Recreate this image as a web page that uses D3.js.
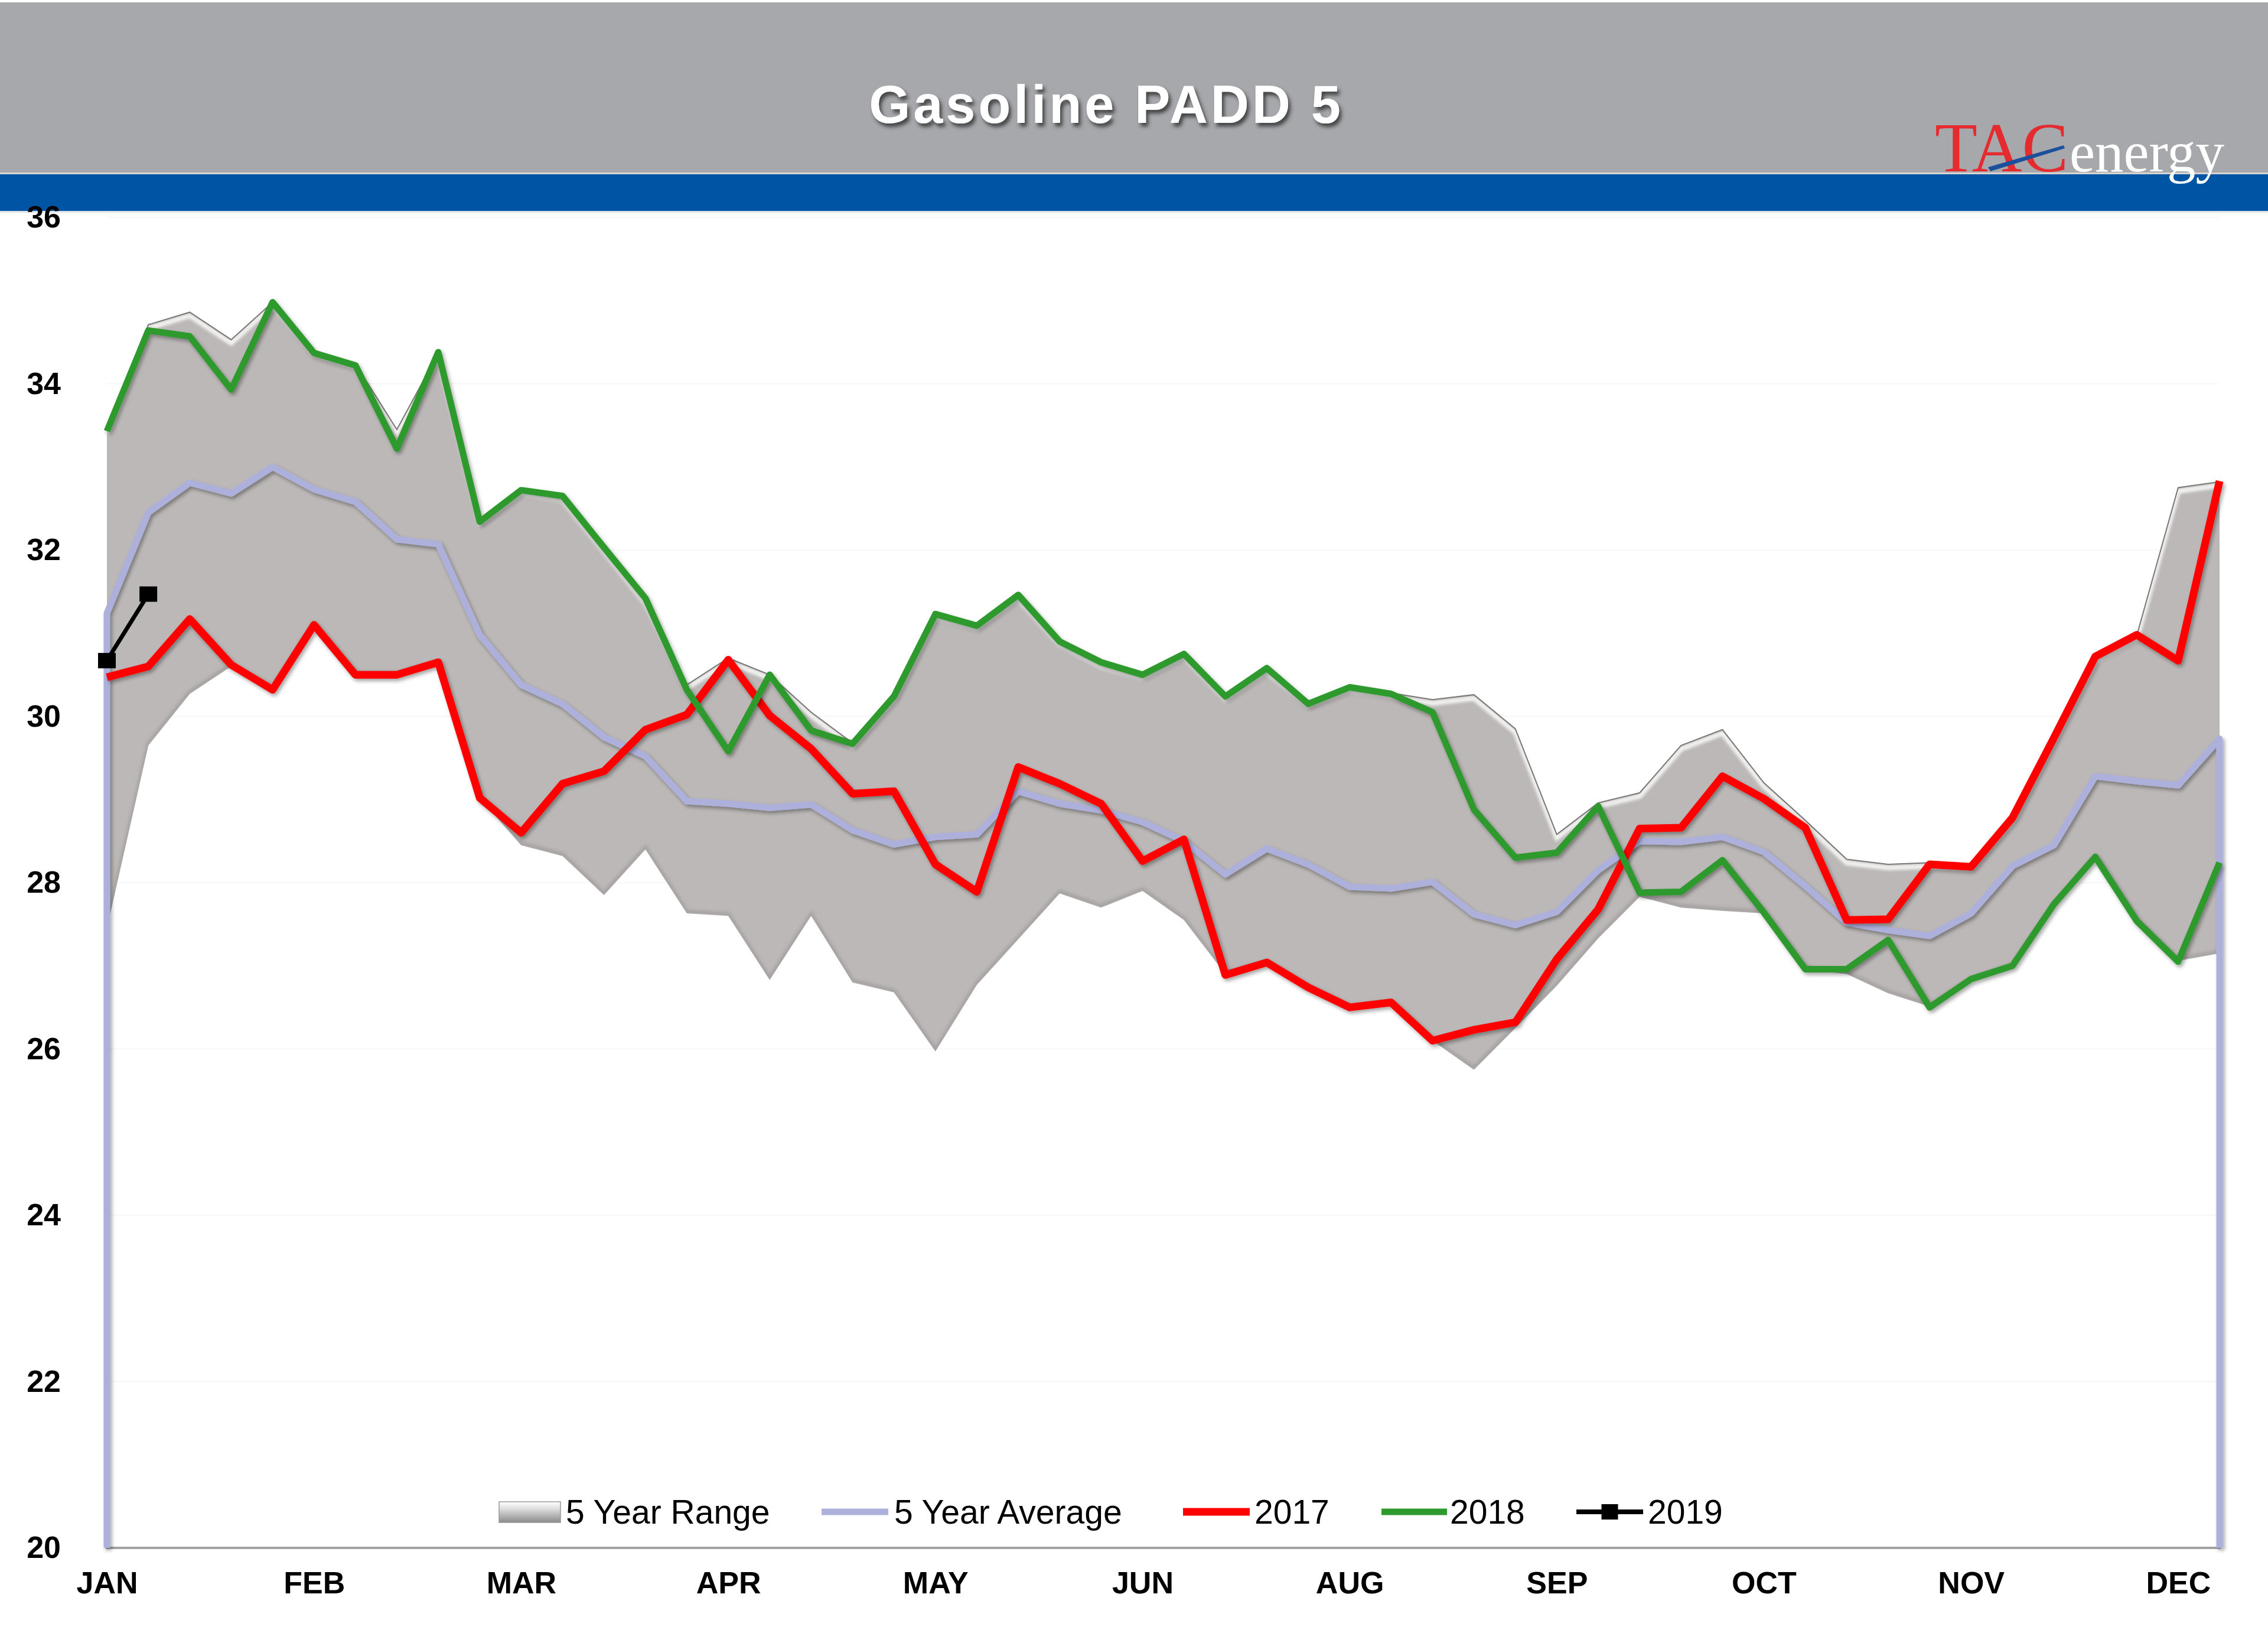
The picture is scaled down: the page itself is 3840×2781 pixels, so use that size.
<!DOCTYPE html>
<html><head><meta charset="utf-8">
<script src="https://cdn.jsdelivr.net/npm/d3@7"></script>
<style>html,body{margin:0;padding:0;background:#fff;} svg{display:block;}</style>
</head><body>
<script>
// ---------------- DATA ----------------
const chartTitle = "Gasoline PADD 5";
const monthLabels = ["JAN","FEB","MAR","APR","MAY","JUN","AUG","SEP","OCT","NOV","DEC"];
const labelEvery = 5;
const yTicks = [20,22,24,26,28,30,32,34,36];
const legendLabels = ["5 Year Range","5 Year Average","2017","2018","2019"];

const rangeHigh = [33.45,34.71,34.86,34.53,34.98,34.40,34.24,33.45,34.37,32.36,
  32.72,32.64,32.02,31.40,30.38,30.70,30.50,30.05,29.68,30.24,
  31.23,31.10,31.45,30.90,30.64,30.50,30.75,30.24,30.57,30.17,
  30.35,30.28,30.20,30.26,29.85,28.58,28.96,29.08,29.65,29.84,
  29.20,28.75,28.28,28.22,28.24,28.22,28.78,29.74,30.70,30.97,
  32.75,32.82];
const rangeLow = [27.45,29.65,30.27,30.60,30.34,31.10,30.50,30.50,30.64,29.02,
  28.45,28.32,27.85,28.40,27.63,27.60,26.83,27.60,26.80,26.68,
  25.97,26.77,27.32,27.87,27.70,27.90,27.55,26.90,27.03,26.74,
  26.50,26.55,26.10,25.75,26.25,26.76,27.33,27.83,27.70,27.66,
  27.63,26.96,26.90,26.67,26.51,26.83,27.00,27.73,28.30,27.53,
  27.06,27.15];
const avg5 = [31.24,32.45,32.81,32.68,33.00,32.73,32.58,32.13,32.07,30.98,
  30.38,30.15,29.75,29.52,28.98,28.95,28.90,28.94,28.63,28.46,
  28.55,28.58,29.10,28.95,28.87,28.73,28.50,28.10,28.41,28.22,
  27.95,27.93,28.01,27.62,27.49,27.65,28.15,28.50,28.49,28.55,
  28.37,27.96,27.52,27.43,27.36,27.63,28.20,28.45,29.28,29.22,
  29.17,29.73];
const y2017 = [30.47,30.60,31.17,30.62,30.32,31.10,30.50,30.50,30.65,29.02,
  28.60,29.19,29.34,29.84,30.02,30.68,30.01,29.61,29.07,29.10,
  28.22,27.89,29.39,29.19,28.95,28.26,28.52,26.89,27.04,26.74,
  26.50,26.56,26.10,26.23,26.32,27.08,27.68,28.65,28.66,29.28,
  29.01,28.66,27.55,27.56,28.22,28.19,28.78,29.74,30.72,30.98,
  30.67,32.83];
const y2018 = [33.43,34.64,34.57,33.93,34.98,34.37,34.22,33.22,34.38,32.34,
  32.72,32.65,32.03,31.42,30.32,29.58,30.50,29.83,29.67,30.24,
  31.23,31.09,31.46,30.90,30.65,30.50,30.75,30.24,30.58,30.15,
  30.35,30.27,30.05,28.88,28.30,28.36,28.92,27.88,27.89,28.27,
  27.64,26.96,26.96,27.31,26.50,26.84,27.00,27.74,28.31,27.54,
  27.05,28.24];
const y2019 = [30.67,31.47];

// ---------------- LAYOUT ----------------
const W = 3840, H = 2781;
const plot = {left:181, right:3758, top:368, bottom:2620};
const colors = {header:"#a6a8ab", band:"#0054a4", range:"#bbb8b7", avg:"#aeb0dc",
  y2017:"#ff0000", y2018:"#2e9a2e", y2019:"#000000"};

const svg = d3.select("body").append("svg").attr("width",W).attr("height",H)
  .style("font-family","'Liberation Sans', Arial, sans-serif");
const defs = svg.append("defs");
const sh = defs.append("filter").attr("id","lineShadow").attr("x","-5%").attr("y","-5%").attr("width","110%").attr("height","110%");
sh.append("feDropShadow").attr("dx",3).attr("dy",4).attr("stdDeviation",3).attr("flood-color","#000").attr("flood-opacity",0.35);
const tsh = defs.append("filter").attr("id","titleShadow").attr("x","-10%").attr("y","-30%").attr("width","120%").attr("height","160%");
tsh.append("feDropShadow").attr("dx",4).attr("dy",6).attr("stdDeviation",3).attr("flood-color","#333").attr("flood-opacity",0.85);
const blur = defs.append("filter").attr("id","blur");
blur.append("feGaussianBlur").attr("stdDeviation",2.5);
const blur2 = defs.append("filter").attr("id","blur2").attr("y","-200%").attr("height","500%");
blur2.append("feGaussianBlur").attr("stdDeviation",5);
const grad = defs.append("linearGradient").attr("id","rangeSwatch").attr("x1",0).attr("y1",0).attr("x2",0).attr("y2",1);
grad.append("stop").attr("offset","0%").attr("stop-color","#ffffff");
grad.append("stop").attr("offset","35%").attr("stop-color","#dcdcdc");
grad.append("stop").attr("offset","100%").attr("stop-color","#8a8a8a");

// ---------------- HEADER ----------------
svg.append("rect").attr("x",0).attr("y",4).attr("width",W).attr("height",290).attr("fill",colors.header);
svg.append("rect").attr("x",0).attr("y",292).attr("width",W).attr("height",3).attr("fill","#d9d4cf");
svg.append("rect").attr("x",0).attr("y",295).attr("width",W).attr("height",62).attr("fill",colors.band);
svg.append("rect").attr("x",0).attr("y",357).attr("width",W).attr("height",3).attr("fill","#c9cfd8").attr("opacity",0.6);

svg.append("text").attr("x",1873).attr("y",208).attr("text-anchor","middle")
  .attr("font-size",90).attr("font-weight","bold").attr("letter-spacing",5)
  .attr("fill","#ffffff").attr("filter","url(#titleShadow)").text(chartTitle);

// logo
const logo = svg.append("g").style("font-family","'Liberation Serif','Times New Roman',serif");
logo.append("text").attr("x",3276).attr("y",290).attr("font-size",118)
  .attr("fill","#e52b2f").attr("textLength",226).attr("lengthAdjust","spacingAndGlyphs").text("TAC");
logo.append("text").attr("x",3504).attr("y",290).attr("font-size",97)
  .attr("fill","#ffffff").attr("textLength",262).attr("lengthAdjust","spacingAndGlyphs").text("energy");
logo.append("path").attr("d","M3366,283 L3494,246 L3496,251 L3370,290 Z").attr("fill","#1c4f9c");

// ---------------- SCALES ----------------
const idx = d3.range(rangeHigh.length);
const x = d3.scalePoint().domain(idx).range([plot.left, plot.right]);
const y = d3.scaleLinear().domain([20,36]).range([plot.bottom, plot.top]);

// gridlines (very faint)
svg.append("g").selectAll("line").data(yTicks.slice(1)).join("line")
  .attr("x1",plot.left).attr("x2",plot.right).attr("y1",d=>y(d)).attr("y2",d=>y(d))
  .attr("stroke","#f7f7f7").attr("stroke-width",2);

// ---------------- RANGE BAND ----------------
const area = d3.area().x(i=>x(i)).y0(i=>y(rangeLow[i])).y1(i=>y(rangeHigh[i]));
const upperLine = d3.line().x(i=>x(i)).y(i=>y(rangeHigh[i]));
const lowerLine = d3.line().x(i=>x(i)).y(i=>y(rangeLow[i]));
defs.append("clipPath").attr("id","bandClip").append("path").attr("d",area(idx));
svg.append("path").attr("d",area(idx)).attr("fill",colors.range);
const bev = svg.append("g").attr("clip-path","url(#bandClip)");
bev.append("path").attr("d",upperLine(idx)).attr("fill","none").attr("stroke","#ffffff")
  .attr("stroke-width",8).attr("opacity",0.85).attr("transform","translate(0,6)").attr("filter","url(#blur)");
bev.append("path").attr("d",lowerLine(idx)).attr("fill","none").attr("stroke","#8f8b8a")
  .attr("stroke-width",6).attr("opacity",0.5).attr("transform","translate(0,-3)").attr("filter","url(#blur)");
bev.append("line").attr("x1",x(0)+3).attr("x2",x(0)+3).attr("y1",y(rangeHigh[0])).attr("y2",y(rangeLow[0]))
  .attr("stroke","#7a7777").attr("stroke-width",6).attr("filter","url(#blur)");
bev.append("line").attr("x1",x(idx.length-1)-3).attr("x2",x(idx.length-1)-3).attr("y1",y(rangeHigh[idx.length-1])).attr("y2",y(rangeLow[idx.length-1]))
  .attr("stroke","#6a6767").attr("stroke-width",5).attr("filter","url(#blur)");
svg.append("path").attr("d",upperLine(idx)).attr("fill","none").attr("stroke","#7b7777").attr("stroke-width",2);

// ---------------- AXES ----------------
svg.append("line").attr("x1",plot.left-2).attr("x2",plot.right+2).attr("y1",plot.bottom+2).attr("y2",plot.bottom+2)
  .attr("stroke","#bdbdbd").attr("stroke-width",14).attr("filter","url(#blur2)");
svg.append("line").attr("x1",plot.left-2).attr("x2",plot.right+2).attr("y1",plot.bottom).attr("y2",plot.bottom)
  .attr("stroke","#a3a3a3").attr("stroke-width",4);

// 5-year average (with drops to baseline at both ends)
const avgPts = [{i:0,v:y.domain()[0]}].concat(idx.map(i=>({i, v:avg5[i]}))).concat([{i:idx.length-1, v:y.domain()[0]}]);
const avgLine = d3.line().x(d=>x(d.i)).y(d=>y(d.v));
svg.append("path").attr("d",avgLine(avgPts)).attr("fill","none").attr("stroke",colors.avg)
  .attr("stroke-width",11).attr("stroke-linejoin","round").attr("filter","url(#lineShadow)");

const yAxis = d3.axisLeft(y).tickValues(yTicks).tickSize(0).tickPadding(78).tickFormat(d3.format("d"));
const gy = svg.append("g").attr("transform",`translate(${plot.left},0)`).call(yAxis);
gy.select(".domain").remove();
gy.selectAll("text").attr("font-size",52).attr("font-weight","bold").attr("fill","#000")
  .style("font-family","'Liberation Sans', Arial, sans-serif");

const xAxis = d3.axisBottom(x).tickValues(idx.filter(i=>i%labelEvery===0)).tickSize(0).tickPadding(40)
  .tickFormat(i=>monthLabels[i/labelEvery]);
const gx = svg.append("g").attr("transform",`translate(0,${plot.bottom})`).call(xAxis);
gx.select(".domain").remove();
gx.selectAll("text").attr("font-size",52).attr("font-weight","bold").attr("fill","#000")
  .style("font-family","'Liberation Sans', Arial, sans-serif");

// ---------------- SERIES ----------------
const serLine = arr => d3.line().x((d,i)=>x(i)).y(d=>y(d))(arr);
svg.append("path").attr("d",serLine(y2017)).attr("fill","none").attr("stroke",colors.y2017)
  .attr("stroke-width",13).attr("stroke-linejoin","round").attr("filter","url(#lineShadow)");
svg.append("path").attr("d",serLine(y2018)).attr("fill","none").attr("stroke",colors.y2018)
  .attr("stroke-width",11).attr("stroke-linejoin","round").attr("filter","url(#lineShadow)");
svg.append("path").attr("d",serLine(y2019)).attr("fill","none").attr("stroke",colors.y2019)
  .attr("stroke-width",7);
svg.append("g").selectAll("rect").data(y2019).join("rect")
  .attr("x",(d,i)=>x(i)-15).attr("y",d=>y(d)-13).attr("width",30).attr("height",26).attr("fill","#000");

// ---------------- LEGEND ----------------
const lg = svg.append("g").attr("font-size",57).attr("fill","#000");
const ly = 2559;
lg.append("rect").attr("x",845).attr("y",ly-17).attr("width",104).attr("height",35)
  .attr("fill","url(#rangeSwatch)").attr("stroke","#999").attr("stroke-width",1.5);
const lineItems = [
  {x0:1391, x1:1504, c:colors.avg, w:11, tx:1514, label:legendLabels[1]},
  {x0:2003, x1:2116, c:colors.y2017, w:13, tx:2124, label:legendLabels[2]},
  {x0:2339, x1:2450, c:colors.y2018, w:11, tx:2455, label:legendLabels[3]},
  {x0:2669, x1:2782, c:colors.y2019, w:8, tx:2790, label:legendLabels[4]}
];
lg.append("text").attr("x",958).attr("y",ly+20).text(legendLabels[0]);
lineItems.forEach(it=>{
  lg.append("line").attr("x1",it.x0).attr("x2",it.x1).attr("y1",ly).attr("y2",ly)
    .attr("stroke",it.c).attr("stroke-width",it.w);
  lg.append("text").attr("x",it.tx).attr("y",ly+20).text(it.label);
});
lg.append("rect").attr("x",(2669+2782)/2-14).attr("y",ly-13).attr("width",28).attr("height",26).attr("fill","#000");
</script>
</body></html>
